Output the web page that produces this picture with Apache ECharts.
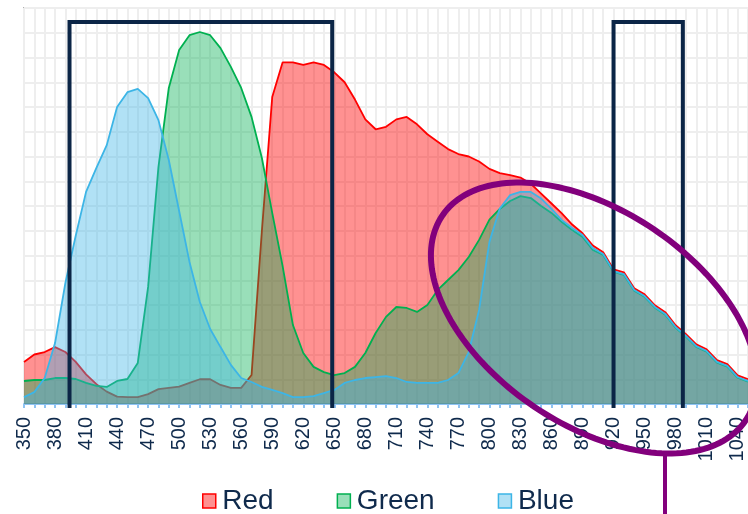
<!DOCTYPE html>
<html>
<head>
<meta charset="utf-8">
<script src="https://cdn.jsdelivr.net/npm/echarts@6/dist/echarts.min.js"></script>
<style>
html,body{margin:0;padding:0;background:#fff;}
#chart{width:748px;height:514px;}
</style>
</head>
<body>
<div id="chart"></div>
<script>
// Wavelength categories (nm)
var wavelengths = [];
for (var w = 350; w <= 1050; w += 10) wavelengths.push(String(w));

var redValues = [17,20,21,23,21,17,12,8,5,3,2.8,2.8,4,6,6.5,7,8.5,10,10,7.7,6.5,6.5,11.7,70,124,138,138,137,138,137,134,130,123,115,111,112,115,116,113,109,106,103,101,100,98,95,93.3,92.5,91.5,89,85,81,77,72.5,69,64,61.3,54.4,53.2,46.8,44.3,39.9,37.1,31.8,28.2,24.1,22.1,17.7,16.1,11.6,10];

var greenValues = [9.3,9.7,9.7,10.5,10.5,10.1,8.5,7.3,6.9,9.3,10.1,16.6,47.3,95.8,127.7,143,149,150.3,149,143.8,136.2,127.7,116,99.4,77.2,55.8,31.9,20.6,15,12.9,11.7,12.5,15,20.6,28.7,35.2,39.2,38.8,37.2,40,46.1,50.1,54.1,59.4,66.3,74.5,78.8,82,84,83.2,80,77.2,73.5,70.3,67.5,62.2,60.2,53.4,52.2,45.8,43.3,38.9,36.1,30.8,27.2,23.1,21.1,16.7,15.1,10.6,9];

var blueValues = [2.8,4.8,10.5,24.6,48.9,68,85.7,95.4,104.6,120,126,127.3,123.6,114.7,98.6,78,57.4,41.2,30.3,23,15.8,10.5,8.9,6.9,5.7,4.4,2.8,2.8,3.2,4.4,5.7,8.5,9.7,10.5,10.9,11.3,10.5,8.9,8.5,8.5,8.5,9.7,12.5,21,38,65.5,79,84.4,85.7,85.7,83,78.8,74.3,71.1,68.3,63,60.6,53.7,52.5,46.1,43.6,39.2,36.4,31.1,27.5,23.4,21.4,17,15.4,10.9,9.3];

var seriesNames = ['Red', 'Green', 'Blue'];

// Annotation brackets (nm positions) and their top level
var bracketA = [394, 648];
var bracketB = [920, 987];
var bracketTop = 154.3;
var bracketBottom = -1.6;

var navy = '#0f2a4c';
var lineColors = {Red: '#ff0000', Green: '#00b050', Blue: '#3db5e6'};
var fillColors = {Red: 'rgba(255,0,0,0.43)', Green: 'rgba(0,176,80,0.4)', Blue: 'rgba(61,181,230,0.4)'};

function bracket(b) {
  return [[b[0], bracketBottom], [b[0], bracketTop], [b[1], bracketTop], [b[1], bracketBottom]];
}

var chart = echarts.init(document.getElementById('chart'), null, {renderer: 'canvas'});

function areaSeries(name, data, z) {
  return {
    name: name, type: 'line', data: data, symbol: 'none', smooth: false, z: z,
    xAxisIndex: 0, yAxisIndex: 0,
    lineStyle: {color: lineColors[name], width: 1.8},
    itemStyle: {color: fillColors[name], borderColor: lineColors[name]},
    areaStyle: {color: fillColors[name], opacity: 1},
    emphasis: {disabled: true}
  };
}

function bracketSeries(b) {
  return {
    type: 'line', xAxisIndex: 1, yAxisIndex: 0, data: bracket(b), symbol: 'none',
    clip: false, silent: true, z: 10,
    lineStyle: {color: '#0b2546', width: 4, cap: 'butt', join: 'miter'}
  };
}

// ellipse annotation (pixel geometry)
var ell = {cx: 594, cy: 318, a: 183, b: 107, angle: 34};
var ellPts = [];
(function () {
  var th = ell.angle * Math.PI / 180;
  for (var i = 0; i < 180; i++) {
    var t = i / 180 * Math.PI * 2;
    ellPts.push([
      ell.cx + ell.a * Math.cos(t) * Math.cos(th) - ell.b * Math.sin(t) * Math.sin(th),
      ell.cy + ell.a * Math.cos(t) * Math.sin(th) + ell.b * Math.sin(t) * Math.cos(th)
    ]);
  }
})();

var option = {
  animation: false,
  backgroundColor: '#ffffff',
  textStyle: {fontFamily: '"Liberation Sans", Arial, sans-serif'},
  grid: {left: 24, right: -1, top: 8, bottom: 110, show: true, borderColor: '#b0b0b0', borderWidth: 2, backgroundColor: 'transparent'},
  legend: {
    left: 197, top: 482, itemWidth: 13, itemHeight: 14, itemGap: 63,
    selectedMode: false,
    textStyle: {fontSize: 28, color: navy, fontFamily: '"Liberation Sans", Arial, sans-serif', padding: [0, 0, 0, 1.5]},
    data: seriesNames.map(function (n) {
      return {name: n, icon: 'rect', itemStyle: {color: fillColors[n], borderColor: lineColors[n], borderWidth: 1.5}};
    })
  },
  xAxis: [{
    type: 'category', data: wavelengths, boundaryGap: false,
    axisLine: {lineStyle: {color: '#8fc3f2', width: 2}},
    axisTick: {show: true, interval: 0, length: 4, lineStyle: {color: '#8fc3f2', width: 2}},
    axisLabel: {interval: 2, rotate: 90, fontSize: 20, color: navy, margin: 13, fontFamily: '"Liberation Sans", Arial, sans-serif'},
    splitLine: {show: true, interval: 0, lineStyle: {color: '#eeeeee', width: 2}}
  }, {
    type: 'value', min: 350, max: 1050, show: false
  }],
  yAxis: [{
    type: 'value', min: 0, max: 160, interval: 10,
    axisLine: {show: false}, axisTick: {show: false}, axisLabel: {show: false},
    splitLine: {show: true, lineStyle: {color: '#eeeeee', width: 2}}
  }],
  series: [
    areaSeries('Red', redValues, 2),
    areaSeries('Green', greenValues, 3),
    areaSeries('Blue', blueValues, 4),
    bracketSeries(bracketA),
    bracketSeries(bracketB)
  ],
  graphic: [{
    type: 'polygon', z: 100, silent: true,
    shape: {points: ellPts},
    style: {fill: 'none', stroke: '#82007c', lineWidth: 6}
  }, {
    type: 'line', z: 100, silent: true,
    shape: {x1: 665, y1: 452, x2: 665, y2: 520},
    style: {stroke: '#82007c', lineWidth: 4}
  }]
};
chart.setOption(option);
</script>
</body>
</html>
